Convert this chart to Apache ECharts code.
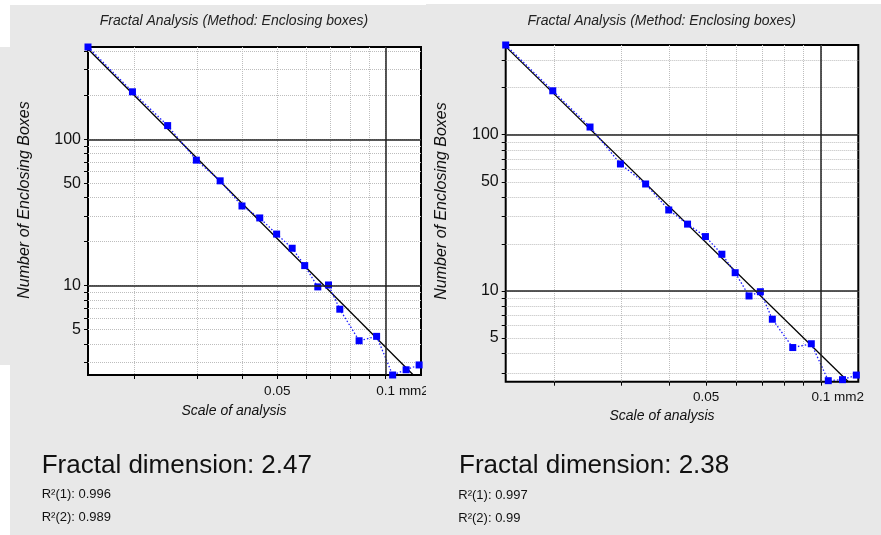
<!DOCTYPE html>
<html><head><meta charset="utf-8">
<script src="https://cdn.jsdelivr.net/npm/echarts@6/dist/echarts.min.js"></script>
<style>
html,body{margin:0;padding:0;background:#fff;width:881px;height:535px;overflow:hidden;position:relative}
#strip{position:absolute;left:0;top:47px;width:10px;height:318px;background:#e8e8e8}
#c1{position:absolute;left:10px;top:5px;width:416px;height:530px;background:#e8e8e8}
#c2{position:absolute;left:426px;top:4px;width:455px;height:531px;background:#e8e8e8}
</style></head><body>
<div id="strip"></div><div id="c1"></div><div id="c2"></div>
<script>
// ---- data ----
const scaleValues = [0.0149, 0.0198, 0.0248, 0.0298, 0.0347, 0.0399, 0.0447, 0.0498, 0.0550, 0.0596, 0.0648, 0.0694, 0.0746, 0.0844, 0.0944, 0.1046, 0.1140, 0.1239];
const boxCountsA = [427, 211, 124, 72, 52, 35, 29, 22.5, 18, 13.7, 9.8, 10.1, 6.9, 4.2, 4.5, 2.45, 2.66, 2.87];
const boxCountsB = [375, 191, 112, 65, 48.4, 33, 26.8, 22.3, 17.2, 13.1, 9.3, 9.9, 6.6, 4.35, 4.6, 2.67, 2.71, 2.9];
const fitLineA = [[0.0149, 414], [0.1194, 2.45]];
const fitLineB = [[0.0149, 366], [0.1181, 2.63]];
const xRange = [0.0149, 0.1254];
const yRangeA = [2.45, 427];
const yRangeB = [2.63, 375];
const yLabelTicks = [5, 10, 50, 100];
const yGridTicks = [3, 4, 5, 6, 7, 8, 9, 10, 20, 30, 40, 50, 60, 70, 80, 90, 100, 200, 300, 400];
const yMajorLines = [10, 100];
const xLabelTicks = [0.05, 0.1];
const xGridTicks = [0.02, 0.03, 0.04, 0.05, 0.06, 0.07, 0.08, 0.09, 0.1];
const xMajorLines = [0.1];
const titleText = 'Fractal Analysis (Method: Enclosing boxes)';
const yAxisTitle = 'Number of Enclosing Boxes';
const xAxisTitle = 'Scale of analysis';
const xUnit = 'mm2';
const dimensionA = '2.47';
const r2A = ['0.996', '0.989'];
const dimensionB = '2.38';
const r2B = ['0.997', '0.99'];

const FONT = "'Liberation Sans', Arial, sans-serif";

function txt(x, y, text, size, opts) {
  opts = opts || {};
  return {
    type: 'text', x: x, y: y, rotation: opts.rotation || 0, silent: true, z: 10,
    style: {
      text: text, fill: opts.color || '#111',
      font: (opts.italic ? 'italic ' : '') + size + 'px ' + FONT,
      textAlign: opts.align || 'left', align: opts.align || 'left',
      textVerticalAlign: 'middle', verticalAlign: 'middle'
    }
  };
}

function makeOption(p) {
  return {
    animation: false,
    backgroundColor: 'transparent',
    grid: {
      left: p.grid[0], top: p.grid[1], width: p.grid[2], height: p.grid[3],
      show: true, backgroundColor: '#ffffff', borderColor: '#000000', borderWidth: 2,
      containLabel: false, outerBoundsMode: 'none'
    },
    xAxis: {
      type: 'log', logBase: 10, min: xRange[0], max: xRange[1],
      axisLine: { show: false },
      axisTick: { show: true, inside: false, length: 4, customValues: xGridTicks, lineStyle: { color: '#000', width: 1 } },
      axisLabel: {
        customValues: xLabelTicks, margin: 9, color: '#111', fontSize: 13.5, fontFamily: FONT,
        formatter: function (v) { return Math.abs(v - 0.1) < 1e-9 ? '{pad| }0.1{unit| ' + xUnit + '}' : String(v); },
        rich: { pad: { width: 34 }, unit: { fontSize: 13.5, color: '#111', fontFamily: FONT } }
      },
      splitLine: { show: true, lineStyle: { color: '#bdbdbd', type: 'dotted', width: 1 } },
      minorTick: { show: false }, minorSplitLine: { show: false }
    },
    yAxis: {
      type: 'log', logBase: 10, min: p.yRange[0], max: p.yRange[1],
      axisLine: { show: false },
      axisTick: { show: true, inside: false, length: 4, customValues: yGridTicks, lineStyle: { color: '#000', width: 1 } },
      axisLabel: {
        customValues: yLabelTicks, margin: 7, color: '#111', fontSize: 16, fontFamily: FONT,
        formatter: function (v) { return String(Math.round(v)); }
      },
      splitLine: { show: true, lineStyle: { color: '#bdbdbd', type: 'dotted', width: 1 } },
      minorTick: { show: false }, minorSplitLine: { show: false }
    },
    series: [
      {
        type: 'line', data: p.fit, symbol: 'none', showSymbol: false, silent: true, z: 3,
        lineStyle: { color: '#000', width: 1.3 },
        markLine: {
          silent: true, symbol: 'none', label: { show: false },
          lineStyle: { color: '#222', width: 1.5, type: 'solid' },
          data: yMajorLines.map(function (v) { return { yAxis: v }; })
            .concat(xMajorLines.map(function (v) { return { xAxis: v }; }))
        }
      },
      {
        type: 'line', data: scaleValues.map(function (x, i) { return [x, p.counts[i]]; }),
        symbol: 'rect', symbolSize: 7, showSymbol: true, silent: true, z: 4,
        itemStyle: { color: '#0000ff' },
        lineStyle: { color: '#1a1aff', width: 1.3, type: [1.5, 2] }
      }
    ],
    graphic: [
      txt(p.title[0], p.title[1], titleText, 14, { italic: true, align: 'center', color: '#222' }),
      txt(p.ytitle[0], p.ytitle[1], yAxisTitle, 16, { italic: true, align: 'center', rotation: Math.PI / 2 }),
      txt(p.xtitle[0], p.xtitle[1], xAxisTitle, 14, { italic: true, align: 'center' }),
      txt(p.dim[0], p.dim[1], 'Fractal dimension: ' + p.dimension, 26, {}),
      txt(p.r1[0], p.r1[1], 'R\u00b2(1): ' + p.r2[0], 13, {}),
      txt(p.r2pos[0], p.r2pos[1], 'R\u00b2(2): ' + p.r2[1], 13, {})
    ]
  };
}

const chartA = echarts.init(document.getElementById('c1'), null, { renderer: 'canvas' });
chartA.setOption(makeOption({
  grid: [78, 42, 333, 328], yRange: yRangeA, counts: boxCountsA, fit: fitLineA,
  title: [224, 16.6], ytitle: [15, 195], xtitle: [224, 406], dim: [31.7, 461],
  r1: [31.7, 489.7], r2pos: [31.7, 512.8], dimension: dimensionA, r2: r2A
}));
const chartB = echarts.init(document.getElementById('c2'), null, { renderer: 'canvas' });
chartB.setOption(makeOption({
  grid: [79.7, 41, 352.6, 336.7], yRange: yRangeB, counts: boxCountsB, fit: fitLineB,
  title: [235.7, 17], ytitle: [15.7, 197], xtitle: [236, 412], dim: [33, 462],
  r1: [32.3, 491.3], r2pos: [32.3, 514.7], dimension: dimensionB, r2: r2B
}));
</script>
</body></html>
